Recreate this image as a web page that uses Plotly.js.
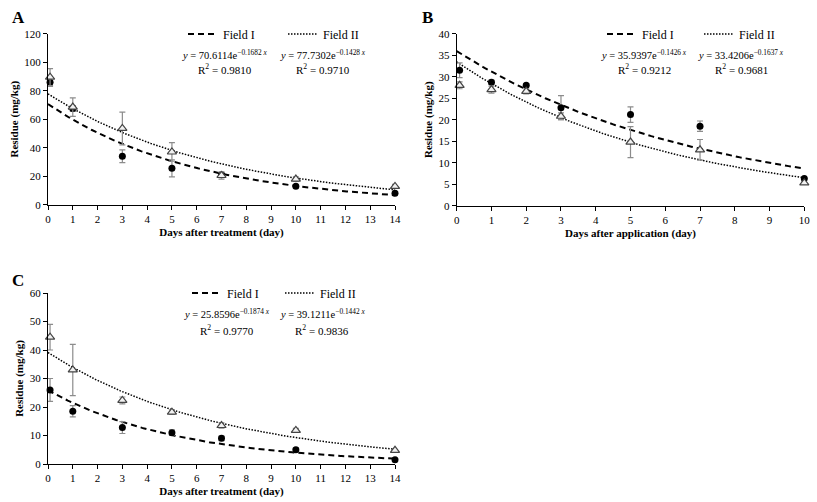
<!DOCTYPE html>
<html><head><meta charset="utf-8">
<script src="https://cdn.plot.ly/plotly-3.0.1.min.js"></script>
<style>html,body{margin:0;padding:0;background:#fff}#chart{width:817px;height:502px}</style>
</head><body><div id="chart"></div>
<script>
// ---- data ----
const daysA = [0.083, 1, 3, 5, 7, 10, 14];
const fieldI_A = [86, 67.5, 34, 25.5, 21, 13, 8];
const fieldI_A_err = [3, 2, 4.5, 6, 1.5, 1, 0.6];
const fieldII_A = [89.5, 68.5, 53.5, 37, 20.5, 18, 12.8];
const fieldII_A_err = [6, 6.5, 11.5, 6.5, 2.5, 1.5, 1.5];

const daysB = [0.083, 1, 2, 3, 5, 7, 10];
const fieldI_B = [31.5, 28.7, 28, 22.8, 21.2, 18.5, 6.3];
const fieldI_B_err = [1.7, 0.5, 0.4, 2.8, 1.8, 1.2, 0.3];
const fieldII_B = [28, 27, 26.6, 20.8, 14.8, 13, 5.3];
const fieldII_B_err = [0.8, 0.8, 0.6, 0.8, 3.6, 2.4, 0.3];

const daysC = [0.083, 1, 3, 5, 7, 10, 14];
const fieldI_C = [26, 18.5, 12.8, 11, 9, 5, 1.5];
const fieldI_C_err = [4, 2, 2.1, 1, 0.8, 0.7, 0.3];
const fieldII_C = [44.5, 33, 22.3, 18.2, 13.5, 11.8, 4.8];
const fieldII_C_err = [4.5, 9, 1.2, 0.8, 0.9, 0.7, 0.5];

// fitted exponential trend lines printed on the chart: y = a * e^(-k x)
const fitA_I = [70.6114, 0.1682], fitA_II = [77.7302, 0.1428];
const fitB_I = [35.9397, 0.1426], fitB_II = [33.4206, 0.1637];
const fitC_I = [25.8596, 0.1874], fitC_II = [39.1211, 0.1442];

const eqA = ['<i>y</i> = 70.6114e<sup>−0.1682 <i>x</i></sup>', '<i>y</i> = 77.7302e<sup>−0.1428 <i>x</i></sup>'];
const r2A = ['R<sup>2</sup> = 0.9810', 'R<sup>2</sup> = 0.9710'];
const eqB = ['<i>y</i> = 35.9397e<sup>−0.1426 <i>x</i></sup>', '<i>y</i> = 33.4206e<sup>−0.1637 <i>x</i></sup>'];
const r2B = ['R<sup>2</sup> = 0.9212', 'R<sup>2</sup> = 0.9681'];
const eqC = ['<i>y</i> = 25.8596e<sup>−0.1874 <i>x</i></sup>', '<i>y</i> = 39.1211e<sup>−0.1442 <i>x</i></sup>'];
const r2C = ['R<sup>2</sup> = 0.9770', 'R<sup>2</sup> = 0.9836'];

// ---- build ----
const FONT = 'Liberation Serif, Times New Roman, serif';
function curve(fit, xmax){
  const xs=[], ys=[];
  for(let i=0;i<=xmax*20;i++){const x=i/20; xs.push(x); ys.push(fit[0]*Math.exp(-fit[1]*x));}
  return [xs, ys];
}
const traces=[];
function panel(days, y1, e1, y2, e2, f1, f2, xmax, xa, ya, lg1, lg2){
  const c1=curve(f1,xmax), c2=curve(f2,xmax);
  traces.push({x:c1[0], y:c1[1], xaxis:xa, yaxis:ya, mode:'lines', name:'Field I', legend:lg1,
    line:{color:'#000', width:2, dash:'6px,4px'}, hoverinfo:'skip'});
  traces.push({x:c2[0], y:c2[1], xaxis:xa, yaxis:ya, mode:'lines', name:'Field II', legend:lg2,
    line:{color:'#000', width:1.5, dash:'1.5px,1.5px'}, hoverinfo:'skip'});
  traces.push({x:days, y:y1, xaxis:xa, yaxis:ya, mode:'markers', showlegend:false, cliponaxis:false,
    marker:{symbol:'circle', size:7, color:'#000'},
    error_y:{type:'data', array:e1, visible:true, color:'#8c8c8c', thickness:1.2, width:3}});
  traces.push({x:days, y:y2, xaxis:xa, yaxis:ya, mode:'markers', showlegend:false, cliponaxis:false,
    marker:{symbol:'triangle-up', size:8, color:'#f2f2f2', line:{color:'#444', width:1.2}},
    error_y:{type:'data', array:e2, visible:true, color:'#8c8c8c', thickness:1.2, width:3}});
}
panel(daysA, fieldI_A, fieldI_A_err, fieldII_A, fieldII_A_err, fitA_I, fitA_II, 14, 'x', 'y', 'legend', 'legend4');
panel(daysB, fieldI_B, fieldI_B_err, fieldII_B, fieldII_B_err, fitB_I, fitB_II, 10, 'x2', 'y2', 'legend2', 'legend5');
panel(daysC, fieldI_C, fieldI_C_err, fieldII_C, fieldII_C_err, fitC_I, fitC_II, 14, 'x3', 'y3', 'legend3', 'legend6');

const W=817, H=502;
const px = v => v/W, py = v => 1 - v/H;
function xax(dom, max, title, anchor){
  return {domain:dom, range:[0,max], anchor:anchor, dtick:1, tick0:0, showgrid:false, zeroline:false,
    showline:true, linecolor:'#000', linewidth:1, ticks:'outside', ticklen:4, tickcolor:'#000',
    tickfont:{family:FONT, size:11, color:'#000'},
    title:{text:'<b>'+title+'</b>', font:{family:FONT, size:11, color:'#000'}, standoff:4}};
}
function yax(dom, max, dt, anchor){
  return {domain:dom, range:[0,max], anchor:anchor, dtick:dt, tick0:0, showgrid:false, zeroline:false,
    showline:true, linecolor:'#000', linewidth:1, ticks:'outside', ticklen:4, tickcolor:'#000',
    tickfont:{family:FONT, size:11, color:'#000'},
    title:{text:'<b>Residue (mg/kg)</b>', font:{family:FONT, size:11, color:'#000'}, standoff:3}};
}
function leg(x, y){
  return {x:px(x), y:py(y), xanchor:'left', yanchor:'middle', orientation:'h',
    font:{family:FONT, size:12, color:'#000'}, bgcolor:'rgba(0,0,0,0)', itemwidth:30, tracegroupgap:0};
}
const ann=[];
function txt(x,y,t,size,extra){ann.push(Object.assign({x:px(x), y:py(y), xref:'paper', yref:'paper', text:t, showarrow:false,
  xanchor:'center', yanchor:'middle', font:{family:FONT, size:size, color:'#000'}}, extra||{}));}
txt(18,18,'<b>A</b>',17); txt(428,18,'<b>B</b>',17); txt(18,280,'<b>C</b>',17);
txt(225,54,eqA[0],10.5); txt(323,54,eqA[1],10.5); txt(225,69,r2A[0],11); txt(323,69,r2A[1],11);
txt(644,54,eqB[0],10.5); txt(741,54,eqB[1],10.5); txt(644,69,r2B[0],11); txt(741,69,r2B[1],11);
txt(227,313,eqC[0],10.5); txt(322,313,eqC[1],10.5); txt(227,330,r2C[0],11); txt(322,330,r2C[1],11);

const layout = {
  width:W, height:H, margin:{l:0,r:0,t:0,b:0, autoexpand:false}, paper_bgcolor:'#fff', plot_bgcolor:'#fff',
  font:{family:FONT, color:'#000'},
  xaxis: xax([px(48),px(395)],14,'Days after treatment (day)','y'),
  yaxis: yax([py(204.7),py(33.7)],120,20,'x'),
  xaxis2: xax([px(456.7),px(804.3)],10,'Days after application (day)','y2'),
  yaxis2: yax([py(205.7),py(33.7)],40,5,'x2'),
  xaxis3: xax([px(48),px(395)],14,'Days after treatment (day)','y3'),
  yaxis3: yax([py(464),py(293)],60,10,'x3'),
  legend: leg(183,34), legend4: leg(283,34),
  legend2: leg(602,34), legend5: leg(699,34),
  legend3: leg(187,293), legend6: leg(280,293),
  annotations: ann, showlegend:true
};
Plotly.newPlot('chart', traces, layout, {staticPlot:true, displayModeBar:false});
</script></body></html>
